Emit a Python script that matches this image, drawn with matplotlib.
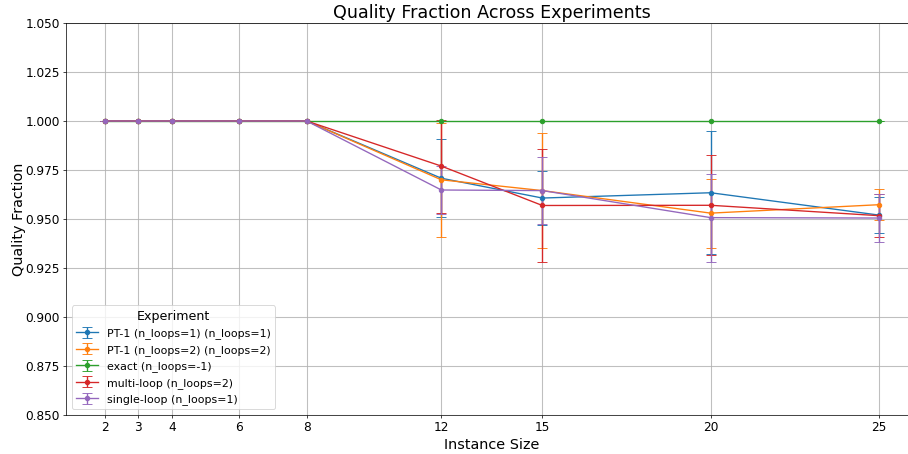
import numpy as np
import matplotlib
matplotlib.use("Agg")
import matplotlib.pyplot as plt

# instance sizes
sizes = [2, 3, 4, 6, 8, 12, 15, 20, 25]

labels = ["PT-1 (n_loops=1) (n_loops=1)",
          "PT-1 (n_loops=2) (n_loops=2)",
          "exact (n_loops=-1)",
          "multi-loop (n_loops=2)",
          "single-loop (n_loops=1)"]

pt1_n1_mean = [1.0, 1.0, 1.0, 1.0, 1.0, 0.9708, 0.9607, 0.9634, 0.9520]
pt1_n1_err  = [0.0, 0.0, 0.0, 0.0, 0.0, 0.0200, 0.0137, 0.0313, 0.0092]

pt1_n2_mean = [1.0, 1.0, 1.0, 1.0, 1.0, 0.9700, 0.9645, 0.9530, 0.9573]
pt1_n2_err  = [0.0, 0.0, 0.0, 0.0, 0.0, 0.0290, 0.0292, 0.0176, 0.0078]

exact_mean = [1.0, 1.0, 1.0, 1.0, 1.0, 1.0, 1.0, 1.0, 1.0]
exact_err  = [0.0, 0.0, 0.0, 0.0, 0.0, 0.0, 0.0, 0.0, 0.0]

multi_mean = [1.0, 1.0, 1.0, 1.0, 1.0, 0.9770, 0.9569, 0.9570, 0.9517]
multi_err  = [0.0, 0.0, 0.0, 0.0, 0.0, 0.0237, 0.0290, 0.0255, 0.0110]

single_mean = [1.0, 1.0, 1.0, 1.0, 1.0, 0.9648, 0.9645, 0.9507, 0.9505]
single_err  = [0.0, 0.0, 0.0, 0.0, 0.0, 0.0122, 0.0173, 0.0225, 0.0122]

means = [pt1_n1_mean, pt1_n2_mean, exact_mean, multi_mean, single_mean]
errs = [pt1_n1_err, pt1_n2_err, exact_err, multi_err, single_err]
colors = ["#1f77b4", "#ff7f0e", "#2ca02c", "#d62728", "#9467bd"]

fig = plt.figure(figsize=(14, 7), dpi=908 / 14)
ax = fig.add_axes([0.0727, 0.0859, 0.938, 0.8634])

for lab, m, e, c in zip(labels, means, errs, colors):
    ax.errorbar(sizes, m, yerr=e, fmt="o-", color=c, label=lab,
                capsize=5, markersize=5, lw=1.5)

ax.set_xticks(sizes)
ax.set_ylim(0.85, 1.05)
ax.set_yticks(np.arange(0.85, 1.0501, 0.025))
ax.yaxis.set_major_formatter(matplotlib.ticker.FormatStrFormatter("%.3f"))
ax.set_xlabel("Instance Size", fontsize=16)
ax.set_ylabel("Quality Fraction", fontsize=16, labelpad=-1)
ax.set_title("Quality Fraction Across Experiments", fontsize=19.5)
ax.tick_params(labelsize=13.5)
ax.grid(True, color="#b0b0b0", lw=1.2, alpha=0.8)
# the right border sits just outside the frame in the reference
ax.spines["right"].set_visible(False)
ax.legend(title="Experiment", loc="lower left", fontsize=12.3,
          title_fontsize=14)

fig.savefig("out.png", dpi=908 / 14)
